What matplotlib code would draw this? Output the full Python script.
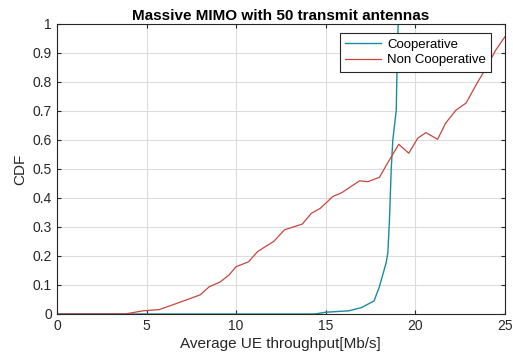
import matplotlib
matplotlib.use("Agg")
import matplotlib.pyplot as plt

plt.rcParams['font.family'] = ['Liberation Sans', 'DejaVu Sans']

# Cooperative CDF
coop_x = [0, 14.4, 15.0, 16.3, 17.0, 17.7, 18.0, 18.37, 18.47, 18.56, 18.66, 18.75,
          18.88, 18.94, 19.0, 19.05, 25]
coop_y = [0, 0, 0.006, 0.011, 0.022, 0.045, 0.094, 0.175, 0.21, 0.32, 0.50, 0.60,
          0.67, 0.70, 0.90, 1.0, 1.0]

# Non cooperative CDF
nonc_x = [0, 3.8, 4.8, 5.7, 6.3, 7.2, 8.0, 8.5, 9.1, 9.6, 10.0, 10.7, 11.2, 11.5,
          12.1, 12.7, 13.2, 13.7, 14.2, 14.7, 15.4, 15.9, 16.4, 16.9, 17.35, 18.0,
          18.56, 19.08, 19.64, 20.14, 20.6, 21.25, 21.7, 22.28, 22.84, 23.4, 23.95,
          24.5, 25.0]
nonc_y = [0, 0, 0.011, 0.015, 0.028, 0.048, 0.066, 0.094, 0.11, 0.134, 0.163, 0.18,
          0.215, 0.227, 0.25, 0.29, 0.30, 0.31, 0.347, 0.364, 0.405, 0.418, 0.439,
          0.459, 0.456, 0.471, 0.531, 0.585, 0.554, 0.606, 0.625, 0.602, 0.658,
          0.703, 0.727, 0.79, 0.847, 0.91, 0.955]

fig = plt.figure(figsize=(5.13, 3.56), dpi=100)
ax = fig.add_axes([0.111, 0.118, 0.873, 0.815])

ax.plot(coop_x, coop_y, color='#1b8a9c', linewidth=1.0, label='Cooperative')
ax.plot(nonc_x, nonc_y, color='#c8453f', linewidth=0.9, label='Non Cooperative')

ax.set_xlim(0, 25)
ax.set_ylim(0, 1)
ax.set_xticks([0, 5, 10, 15, 20, 25])
ax.set_yticks([i / 10 for i in range(11)])
ax.set_yticklabels(['0', '0.1', '0.2', '0.3', '0.4', '0.5', '0.6', '0.7', '0.8', '0.9', '1'])
ax.grid(True, color='#dcdcdc', linewidth=0.8)
ax.set_axisbelow(True)
ax.tick_params(direction='in', top=True, right=True, labelsize=10,
               colors='#262626', length=3)
for s in ax.spines.values():
    s.set_color('#262626')
    s.set_linewidth(0.8)

ax.set_title('Massive MIMO with 50 transmit antennas', fontsize=11,
             fontweight='bold', pad=3)
ax.set_xlabel('Average UE throughput[Mb/s]', fontsize=11, color='#262626', labelpad=3)
ax.set_ylabel('CDF', fontsize=11, color='#262626', labelpad=4)

leg = ax.legend(loc='upper right', bbox_to_anchor=(0.985, 0.99), fontsize=9.5,
                fancybox=False, framealpha=1, edgecolor='#262626',
                handlelength=2.7, borderpad=0.4, labelspacing=0.25,
                handletextpad=0.5)
leg.get_frame().set_linewidth(0.8)

fig.savefig('out.png', dpi=100)
